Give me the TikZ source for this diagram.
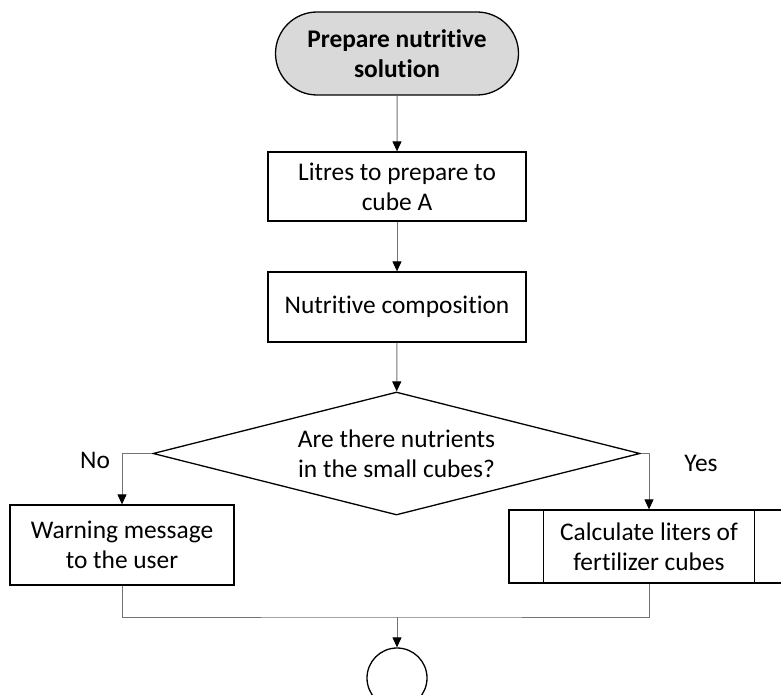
\documentclass[tikz,border=0pt]{standalone}
\usepackage{fontspec}
\setmainfont{Carlito}[Ligatures=NoCommon]
\usetikzlibrary{shapes.geometric,shapes.misc,arrows.meta}

\begin{document}
\begin{tikzpicture}[x=1pt,y=-1pt,
  every node/.style={font=\fontsize{25.4}{30}\selectfont, text=black},
  box/.style={draw=black, line width=1.3pt, align=center, inner sep=0pt, fill=white},
  flow/.style={draw=black!55, line width=1pt},
  arr/.style={flow, -{Triangle[length=10pt,width=9pt,color=black]}},
  lbl/.style={inner sep=0pt}
]
\useasboundingbox (0,0) rectangle (781,695);
\clip (0,0) rectangle (781,695);

% process nodes
\node[box, rounded rectangle, fill=black!15, minimum width=243pt, minimum height=83pt,
      font=\fontsize{25.4}{30}\selectfont\bfseries] (start) at (397,53.5) {Prepare nutritive\\solution};
\node[box, rectangle, minimum width=258pt, minimum height=69pt] (litres) at (397,186.5) {Litres to prepare to\\cube A};
\node[box, rectangle, minimum width=258pt, minimum height=70pt] (comp) at (397,307) {Nutritive composition};
\node[box, diamond, aspect=3.96, minimum width=487pt, minimum height=123pt] (dec) at (396.5,453.5) {Are there nutrients\\in the small cubes?};
\node[box, rectangle, minimum width=224pt, minimum height=80pt] (warn) at (122,545) {Warning message\\to the user};
\node[box, rectangle, minimum width=280pt, minimum height=73pt] (calc) at (649,546.5) {Calculate liters of\\fertilizer cubes};
\draw[line width=1.3pt] ([xshift=35pt]calc.north west) -- ([xshift=35pt]calc.south west);
\draw[line width=1.3pt] ([xshift=-35pt]calc.north east) -- ([xshift=-35pt]calc.south east);
\node[draw=black, line width=1.3pt, circle, minimum size=60pt, inner sep=0pt] (end) at (397,678) {};

% branch labels
\node[lbl] (no) at (95,460) {No};
\node[lbl] (yes) at (701,463) {Yes};

% connectors
\coordinate (merge) at (397,617);
\draw[arr] (start) -- (litres);
\draw[arr] (litres) -- (comp);
\draw[arr] (comp) -- (dec);
\draw[arr] (dec.west) -| (warn.north);
\draw[arr] (dec.east) -| (calc.north);
\draw[flow] (warn.south) |- (merge) -| (calc.south);
\draw[arr] (merge) -- (end.north);
\end{tikzpicture}
\end{document}
